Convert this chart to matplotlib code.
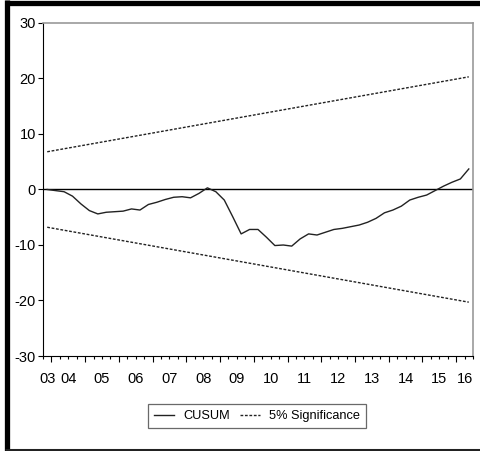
import matplotlib
matplotlib.use("Agg")
import matplotlib.pyplot as plt
from matplotlib.lines import Line2D
from matplotlib.ticker import FixedLocator, NullFormatter
import numpy as np

# ---- data ----
start_year, start_q = 2003, 4          # first observation 2003Q4
cusum = [0.0, -0.2, -0.4, -1.2, -2.6, -3.8, -4.4, -4.1, -4.0, -3.9,
         -3.5, -3.7, -2.7, -2.3, -1.8, -1.4, -1.3, -1.5, -0.7, 0.3,
         -0.4, -1.9, -4.9, -8.0, -7.2, -7.2, -8.6, -10.1, -10.0, -10.2,
         -8.9, -8.0, -8.2, -7.7, -7.2, -7.0, -6.7, -6.4, -5.9, -5.2,
         -4.2, -3.7, -3.0, -1.9, -1.4, -1.0, -0.2, 0.6, 1.3, 1.9, 3.7]
upper_bound = [6.8, 20.3]   # at first and last observation
lower_bound = [-6.8, -20.3]
year_labels = ['03', '04', '05', '06', '07', '08', '09', '10', '11', '12',
               '13', '14', '15', '16']
y_ticks = [-30, -20, -10, 0, 10, 20, 30]
series_names = ['CUSUM', '5% Significance']

# ---- positions (quarter centres) ----
n = len(cusum)
q0 = start_year + (start_q - 1) / 4.0
x = q0 + 0.125 + 0.25 * np.arange(n)
xmin, xmax = q0, q0 + 0.25 * n

FONT = ['Liberation Sans Narrow', 'Liberation Sans', 'DejaVu Sans']
plt.rcParams['font.family'] = FONT

fig = plt.figure(figsize=(4.81, 4.51), dpi=100)
ax = fig.add_axes([43 / 481, 1 - 356 / 451, 430 / 481, 333 / 451])

ax.axhline(0, color='black', lw=1.0, zorder=1)
l1, = ax.plot(x, cusum, color='#222222', lw=1.0, zorder=3)
l2, = ax.plot([x[0], x[-1]], upper_bound, color='#222222', lw=1.0,
              ls=(0, (2.0, 1.2)), zorder=2)
ax.plot([x[0], x[-1]], lower_bound, color='#222222', lw=1.0,
        ls=(0, (2.0, 1.2)), zorder=2)

ax.set_xlim(xmin, xmax)
ax.set_ylim(-30, 30)
ax.set_yticks(y_ticks)
ax.set_yticklabels([str(v) for v in y_ticks])
ax.tick_params(axis='y', direction='out', length=3.6, width=0.8,
               labelsize=10.5, pad=1.5, colors='black')

# year boundaries as major ticks, quarters as minor ticks
first_year = int(np.ceil(xmin))
last_year = int(np.floor(xmax))
major = list(range(first_year, last_year + 1))
quarters = [v for v in np.arange(np.ceil(xmin * 4) / 4, xmax + 1e-9, 0.25)
            if abs(v - round(v)) > 1e-6]
ax.xaxis.set_major_locator(FixedLocator(major))
ax.xaxis.set_minor_locator(FixedLocator(quarters))
ax.xaxis.set_major_formatter(NullFormatter())
ax.tick_params(axis='x', which='major', direction='out', length=4.5, width=0.8)
ax.tick_params(axis='x', which='minor', direction='out', length=2.4, width=0.8)

# year labels centred on each (clipped) year span
for i, lab in enumerate(year_labels):
    yr = 2003 + i
    a = max(yr, xmin)
    b = min(yr + 1, xmax)
    ax.text((a + b) / 2, -0.047, lab, transform=ax.get_xaxis_transform(),
            ha='center', va='top', fontsize=10.5)

for s in ['top', 'right']:
    ax.spines[s].set_color('#999999')
    ax.spines[s].set_linewidth(1.2)
for s in ['left', 'bottom']:
    ax.spines[s].set_color('black')
    ax.spines[s].set_linewidth(0.8)

leg = fig.legend([l1, l2], series_names, ncol=2, loc='center',
                 bbox_to_anchor=(257 / 481, 1 - 416 / 451), fontsize=9.2,
                 frameon=True, fancybox=False, handlelength=1.6,
                 handletextpad=0.7, columnspacing=0.8, borderpad=0.45,
                 borderaxespad=0)
leg.get_frame().set_edgecolor('#444444')
leg.get_frame().set_linewidth(0.9)

# outer thick frame
fig.add_artist(Line2D([7.5 / 481, 7.5 / 481], [0, 1], transform=fig.transFigure,
                      color='black', lw=3.8, solid_capstyle='butt'))
fig.add_artist(Line2D([5 / 481, 1], [1 - 2.5 / 451, 1 - 2.5 / 451],
                      transform=fig.transFigure, color='black', lw=3.8,
                      solid_capstyle='butt'))
fig.add_artist(Line2D([5 / 481, 1], [1.5 / 451, 1.5 / 451],
                      transform=fig.transFigure, color='#222222', lw=2.2,
                      solid_capstyle='butt'))

fig.savefig('out.png', dpi=100)
